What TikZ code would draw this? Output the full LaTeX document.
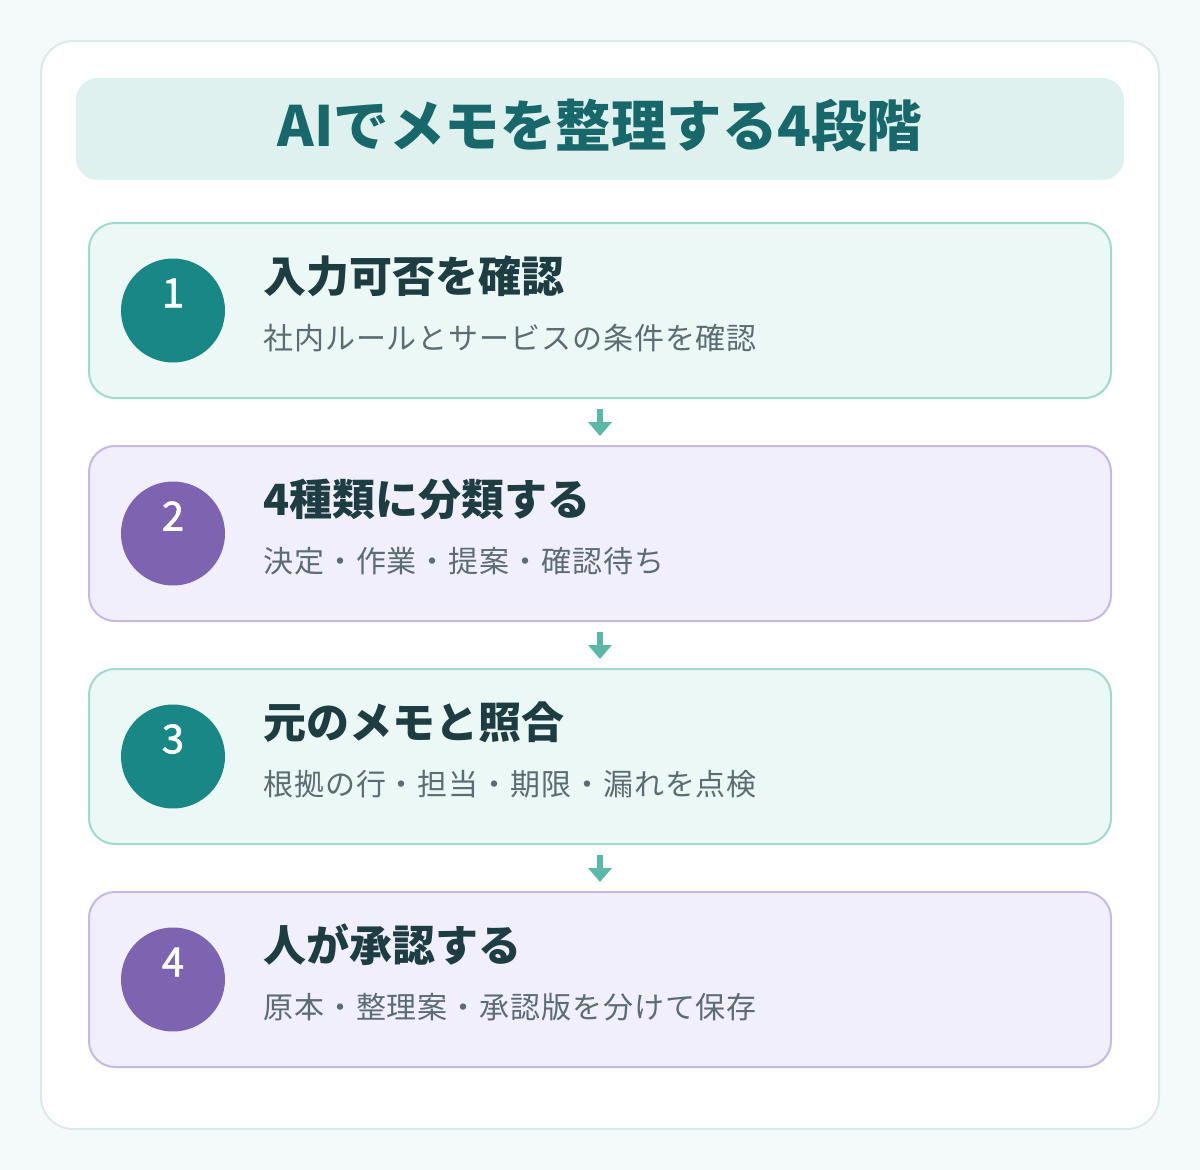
\documentclass[tikz,border=0pt]{standalone}
\usepackage{fontspec}
\setmainfont{Noto Sans CJK JP}
\usetikzlibrary{arrows.meta,positioning}
\definecolor{pagebg}{HTML}{F4FAFA}
\definecolor{framec}{HTML}{DCEBEA}
\definecolor{bannerfill}{HTML}{DFF1EE}
\definecolor{bannerink}{HTML}{17676B}
\definecolor{tealfill}{HTML}{ECF8F6}
\definecolor{tealline}{HTML}{A0D9CD}
\definecolor{lilacfill}{HTML}{F2EFFC}
\definecolor{lilacline}{HTML}{C5B8E3}
\definecolor{tealdot}{HTML}{1A8787}
\definecolor{lilacdot}{HTML}{7E64B0}
\definecolor{headink}{HTML}{1E3D42}
\definecolor{noteink}{HTML}{5B6C72}
\definecolor{flowc}{HTML}{5CB8A6}
\tikzset{every picture/.style={line width=0.75pt}}
\tikzset{
  card/.style={line width=2pt, rounded corners=26pt, minimum width=1022pt, minimum height=175pt, inner sep=0pt},
  tealcard/.style={card, fill=tealfill, draw=tealline},
  lilaccard/.style={card, fill=lilacfill, draw=lilacline},
  badge/.style={circle, minimum size=104pt, inner sep=0pt},
  stepnum/.style={text=white, inner sep=0pt, font=\fontsize{40}{40}\selectfont\addfontfeature{FakeBold=1.5}},
  stephead/.style={anchor=west, text=headink, inner sep=0pt, font=\fontsize{43}{43}\selectfont\bfseries},
  stepnote/.style={anchor=west, text=noteink, inner sep=0pt, font=\fontsize{30}{30}\selectfont\addfontfeature{LetterSpace=3}},
  flow/.style={draw=flowc, line width=6pt, shorten <=10pt, shorten >=9pt, -{Triangle[width=23pt,length=14pt]}},
}
\begin{document}
\begin{tikzpicture}[x=1pt,y=1pt,yscale=-1,xscale=1]
\useasboundingbox[fill=pagebg] (0,0) rectangle (1200,1170);

%Shape: Rounded Rect [frame]
\node [draw=framec, fill=white, line width=2pt, rounded corners=32pt, minimum width=1118pt, minimum height=1088pt] (frame) at (600,585) {};
%Shape: Rounded Rect [banner]
\node [fill=bannerfill, rounded corners=22pt, minimum width=1048pt, minimum height=102pt] (banner) at (600,129) {};
% Text Node
\node [text=bannerink, inner sep=0pt, font=\fontsize{55.5}{55.5}\selectfont\bfseries] (bannertext) at (600,125) {AIでメモを整理する4段階};

%Shape: Rounded Rect [card1]
\node [tealcard] (card1) at (600,310.5) {};
%Shape: Circle [dot1]
\node [badge, fill=tealdot] (dot1) at (173,310.5) {};
% Text Node
\node [stepnum] (num1) at (173,293) {1};
% Text Node
\node [stephead] (head1) at (263,276) {入力可否を確認};
% Text Node
\node [stepnote] (note1) at (263,338) {社内ルールとサービスの条件を確認};

%Shape: Rounded Rect [card2]
\node [lilaccard] (card2) at (600,533.5) {};
%Shape: Circle [dot2]
\node [badge, fill=lilacdot] (dot2) at (173,533.5) {};
% Text Node
\node [stepnum] (num2) at (173,516) {2};
% Text Node
\node [stephead] (head2) at (263,499) {4種類に分類する};
% Text Node
\node [stepnote] (note2) at (263,561) {決定・作業・提案・確認待ち};

%Shape: Rounded Rect [card3]
\node [tealcard] (card3) at (600,756.5) {};
%Shape: Circle [dot3]
\node [badge, fill=tealdot] (dot3) at (173,756.5) {};
% Text Node
\node [stepnum] (num3) at (173,739) {3};
% Text Node
\node [stephead] (head3) at (263,722) {元のメモと照合};
% Text Node
\node [stepnote] (note3) at (263,784) {根拠の行・担当・期限・漏れを点検};

%Shape: Rounded Rect [card4]
\node [lilaccard] (card4) at (600,979.5) {};
%Shape: Circle [dot4]
\node [badge, fill=lilacdot] (dot4) at (173,979.5) {};
% Text Node
\node [stepnum] (num4) at (173,962) {4};
% Text Node
\node [stephead] (head4) at (263,945) {人が承認する};
% Text Node
\node [stepnote] (note4) at (263,1007) {原本・整理案・承認版を分けて保存};

%Straight Lines [flow]
\draw [flow] (card1.south) -- (card2.north);
\draw [flow] (card2.south) -- (card3.north);
\draw [flow] (card3.south) -- (card4.north);
\end{tikzpicture}
\end{document}
